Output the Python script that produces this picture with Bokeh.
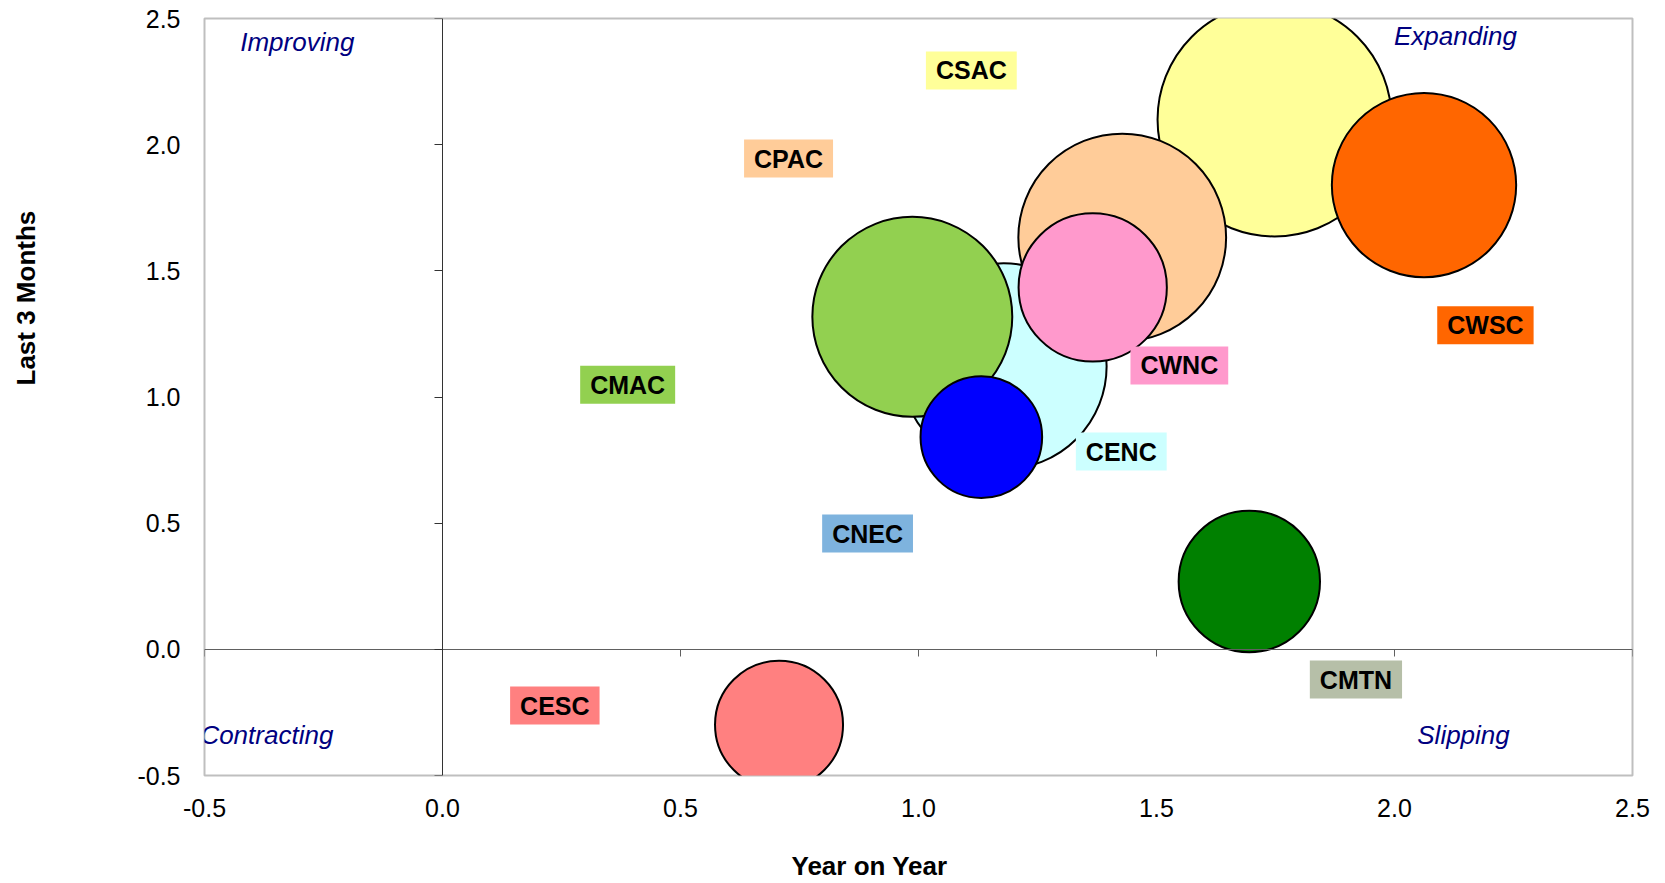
from bokeh.plotting import figure
from bokeh.models import (Range1d, LinearAxis, FixedTicker, PrintfTickFormatter,
                          Label, Title, ColumnDataSource)
from bokeh.embed import file_html
from bokeh.resources import INLINE
import math

# ---- data ----
regions = ["CSAC", "CPAC", "CENC", "CMAC", "CWSC", "CWNC", "CMTN", "CESC", "CNEC"]
year_on_year = [1.748, 1.428, 1.179, 0.987, 2.062, 1.366, 1.695, 0.707, 1.132]
last_3_months = [2.100, 1.632, 1.122, 1.318, 1.840, 1.434, 0.269, -0.299, 0.841]
bubble_size = [13.7, 10.8, 10.6, 10.0, 8.5, 5.5, 5.0, 4.1, 3.7]
bubble_colors = ["#FFFF99", "#FFCC99", "#CCFFFF", "#92D050", "#FF6600",
                 "#FF99CC", "#008000", "#FF8080", "#0000FF"]
label_x = [1.111, 0.727, 1.426, 0.389, 2.191, 1.548, 1.919, 0.236, 0.893]
label_y = [2.294, 1.945, 0.784, 1.049, 1.284, 1.125, -0.120, -0.223, 0.459]
label_colors = ["#FFFF99", "#FFCC99", "#CCFFFF", "#92D050", "#FF6600",
                "#FF99CC", "#B6BFA8", "#FF8080", "#7EB3DE"]

quadrant_names = ["Improving", "Expanding", "Contracting", "Slipping"]
quadrant_x = [-0.305, 2.128, -0.369, 2.145]
quadrant_y = [2.405, 2.429, -0.341, -0.341]

x_ticks = [-0.5, 0.0, 0.5, 1.0, 1.5, 2.0, 2.5]
y_ticks = [-0.5, 0.0, 0.5, 1.0, 1.5, 2.0, 2.5]

x_title = "Year on Year"
y_title = "Last 3 Months"

FONT = "Liberation Sans"
FS = "25px"

p = figure(width=1665, height=883,
           x_range=Range1d(-0.5, 2.5), y_range=Range1d(-0.5, 2.5),
           output_backend="svg", toolbar_location=None,
           min_border_left=204, min_border_right=33,
           min_border_top=18, min_border_bottom=108)
p.grid.visible = False
p.background_fill_color = "white"
p.border_fill_color = "white"
p.outline_line_color = "#BFBFBF"
p.outline_line_width = 2

# label-only axes at the frame edges
for ax, ticks in ((p.xaxis[0], x_ticks), (p.yaxis[0], y_ticks)):
    ax.ticker = FixedTicker(ticks=ticks)
    ax.formatter = PrintfTickFormatter(format="%.1f")
    ax.axis_line_color = None
    ax.major_tick_line_color = None
    ax.minor_tick_line_color = None
    ax.major_tick_out = 0
    ax.major_tick_in = 0
    ax.minor_tick_out = 0
    ax.minor_tick_in = 0
    ax.major_label_text_font = FONT
    ax.major_label_text_font_size = FS
    ax.major_label_text_color = "black"
p.xaxis[0].major_label_standoff = 23
p.yaxis[0].major_label_standoff = 24


def spacer(n):
    """Blank axis (white tick on white) that only reserves n pixels of panel space."""
    return LinearAxis(ticker=FixedTicker(ticks=[], minor_ticks=[-0.5]),
                      axis_line_color=None,
                      major_tick_line_color=None, major_tick_out=0, major_tick_in=0,
                      minor_tick_line_color="white", minor_tick_out=n, minor_tick_in=0,
                      major_label_standoff=0)


p.add_layout(spacer(29), "below")
p.add_layout(spacer(83), "left")

# crossing axes at zero (lines + ticks only, via minor ticks so no labels)
yzero = LinearAxis(fixed_location=0,
                   ticker=FixedTicker(ticks=[], minor_ticks=y_ticks),
                   major_label_standoff=0,
                   axis_line_color="#333333", axis_line_width=1,
                   major_tick_line_color=None, major_tick_out=0, major_tick_in=0,
                   minor_tick_line_color="#333333", minor_tick_out=0, minor_tick_in=8)
xzero = LinearAxis(fixed_location=0,
                   ticker=FixedTicker(ticks=[], minor_ticks=x_ticks),
                   major_label_standoff=0,
                   axis_line_color="#606060", axis_line_width=1,
                   major_tick_line_color=None, major_tick_out=0, major_tick_in=0,
                   minor_tick_line_color="#606060", minor_tick_out=0, minor_tick_in=7)
p.add_layout(yzero, "right")
p.add_layout(xzero, "above")

# bubbles (diameter proportional to sqrt of bubble size)
max_d = 234.0
vmax = max(bubble_size)
diam = [max_d * math.sqrt(v / vmax) for v in bubble_size]
src = ColumnDataSource(dict(x=year_on_year, y=last_3_months, d=diam,
                            c=bubble_colors, name=regions))
p.scatter("x", "y", size="d", source=src, fill_color="c", fill_alpha=1.0,
          line_color="black", line_width=2)

# region labels with coloured boxes
for name, lx, ly, lc in zip(regions, label_x, label_y, label_colors):
    p.add_layout(Label(x=lx, y=ly, text=name, text_align="center",
                       text_baseline="middle", text_font=FONT,
                       text_font_size=FS, text_font_style="bold",
                       text_color="black", background_fill_color=lc,
                       padding=(10, 5)))

# quadrant labels
for name, qx, qy in zip(quadrant_names, quadrant_x, quadrant_y):
    p.add_layout(Label(x=qx, y=qy, text=name, text_align="center",
                       text_baseline="middle", text_font=FONT,
                       text_font_size="26px", text_font_style="italic",
                       text_color="#000080"))

# axis titles
p.add_layout(Title(text=x_title, align="left", offset=587, vertical_align="bottom",
                   standoff=0, text_font=FONT, text_font_size="26px",
                   text_font_style="bold", text_color="black"), "below")
p.add_layout(Title(text=y_title, align="left", offset=390, vertical_align="top",
                   standoff=18, text_font=FONT, text_font_size="26px",
                   text_font_style="bold", text_color="black"), "left")

open("out.html", "w").write(file_html(p, INLINE))
